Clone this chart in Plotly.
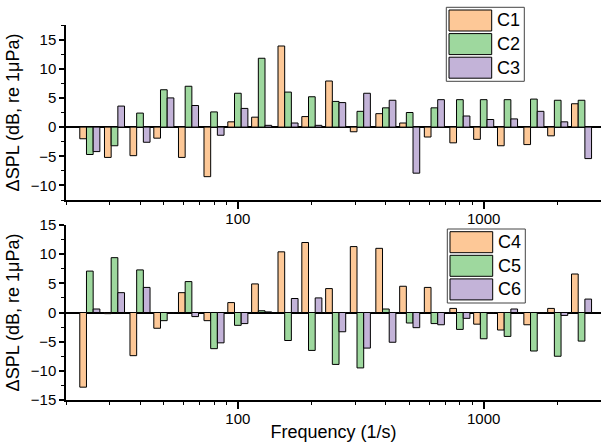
import numpy as np
import plotly.graph_objects as go
from plotly.subplots import make_subplots

# ---- data ----
freqs = [25, 31.5, 40, 50, 63, 80, 100, 125, 160, 200, 250, 315, 400, 500,
         630, 800, 1000, 1250, 1600, 2000, 2500]

C1 = [-2.0, -5.2, -4.9, -1.9, -5.2, -8.5, 0.9, 1.7, 13.9, 1.8, 7.9, -0.8, 2.3, 0.7,
      -1.7, -2.7, -2.1, -3.2, -3.0, -1.5, 4.0]
C2 = [-4.7, -3.2, 2.4, 6.4, 7.0, 2.6, 5.8, 11.8, 6.0, 5.2, 4.4, 2.7, 3.3, 2.5,
      3.3, 4.7, 4.7, 4.7, 4.8, 4.6, 4.6]
C3 = [-4.2, 3.6, -2.6, 5.0, 3.7, -1.4, 3.2, 0.3, 0.7, 0.3, 4.2, 5.8, 4.6, -7.9,
      4.7, 1.9, 1.3, 1.4, 2.7, 0.9, -5.4]

C4 = [-12.8, -0.2, -7.4, -2.7, 3.4, -1.4, 1.7, 4.9, 10.4, 12.0, 4.1, 11.3, 11.0, 4.5,
      4.3, 0.7, -2.0, -3.0, -2.1, 0.7, 6.6]
C5 = [7.1, 9.4, 7.3, -1.4, 5.3, -6.2, -2.2, 0.3, -4.8, -6.5, -8.9, -9.5, 0.6, -1.8,
      -1.9, -2.9, -4.5, -4.1, -6.6, -7.5, -4.9]
C6 = [0.6, 3.4, 4.3, -0.1, -0.7, -5.2, -1.9, 0.1, 2.4, 2.5, -3.3, -6.1, -5.1, -2.6,
      -2.1, -1.0, -0.1, 0.6, -0.1, -0.5, 2.3]

top_names = ["C1", "C2", "C3"]
bot_names = ["C4", "C5", "C6"]
colors = ["#FDC897", "#9ED89E", "#C3B3D8"]

x_major = [100, 1000]
x_minor = [20, 30, 40, 50, 60, 70, 80, 90, 200, 300, 400, 500, 600, 700, 800, 900, 2000, 3000]

# ---- figure geometry (pixels) ----
W, H = 601, 444
ML, MR, MT, MB = 66, 0, 25, 44
PW, PH = W - ML - MR, H - MT - MB

def px_x(px):
    return (px - ML) / PW

def px_y(py):
    return (H - MB - py) / PH

fig = make_subplots(rows=2, cols=1, shared_xaxes=False, vertical_spacing=25 / PH)

xpos = np.log10(freqs)
bw = 0.0272
offsets = [-1.5 * bw, -0.5 * bw, 0.5 * bw]

for row, (names, series) in enumerate([(top_names, [C1, C2, C3]), (bot_names, [C4, C5, C6])], start=1):
    for i, (nm, vals) in enumerate(zip(names, series)):
        fig.add_trace(go.Bar(x=xpos, y=vals, name=nm, width=bw, offset=offsets[i],
                             marker=dict(color=colors[i], line=dict(color="black", width=1)),
                             showlegend=False, cliponaxis=False), row=row, col=1)

font = dict(family="Arial, Liberation Sans, sans-serif", color="black")

xr = [np.log10(20), np.log10(3000)]
for row in (1, 2):
    fig.update_xaxes(range=xr, type="linear", showline=True, linecolor="black", linewidth=1.5,
                     showgrid=False, zeroline=False, automargin=False,
                     tickmode="array", tickvals=np.log10(x_major).tolist(),
                     ticktext=[str(v) for v in x_major],
                     ticks="outside", ticklen=7, tickwidth=1.5, tickcolor="black",
                     ticklabelstandoff=-3,
                     minor=dict(tickmode="array", tickvals=np.log10(x_minor).tolist(),
                                ticks="outside", ticklen=3, tickwidth=1.2, tickcolor="black"),
                     tickfont=dict(size=15, **font), row=row, col=1)

fig.update_yaxes(range=[-12.5, 17.5], dtick=5, tick0=0, row=1, col=1)
fig.update_yaxes(range=[-15, 15], dtick=5, tick0=0, row=2, col=1)
for row in (1, 2):
    fig.update_yaxes(showline=True, linecolor="black", linewidth=1.5, showgrid=False,
                     zeroline=True, zerolinecolor="black", zerolinewidth=1.5, automargin=False,
                     ticks="outside", ticklen=5, tickwidth=1.5, tickcolor="black",
                     minor=dict(dtick=2.5, ticks="outside", ticklen=3, tickwidth=1.2, tickcolor="black"),
                     tickfont=dict(size=15, **font),
                     title=dict(text="ΔSPL (dB, re 1μPa)", font=dict(size=18, **font), standoff=6),
                     row=row, col=1)

fig.update_xaxes(title=dict(text="Frequency (1/s)", font=dict(size=18, **font), standoff=0), row=2, col=1)

# ---- custom legends ----
shapes = []
annots = []
for k, names in enumerate([top_names, bot_names]):
    dx, dy = k * 1.0, k * 221.7
    bx0, bx1 = 446.3 + dx, 524.3 + dx
    by0, by1 = 7.3 + dy, 81.3 + dy
    shapes.append(dict(type="rect", xref="paper", yref="paper",
                       x0=px_x(bx0), x1=px_x(bx1), y0=px_y(by1), y1=px_y(by0),
                       line=dict(color="#444444", width=1), fillcolor="white", layer="above"))
    for i, nm in enumerate(names):
        ry0 = 10.0 + dy + i * 23.6
        ry1 = ry0 + 21
        shapes.append(dict(type="rect", xref="paper", yref="paper",
                           x0=px_x(449 + dx), x1=px_x(491.7 + dx), y0=px_y(ry1), y1=px_y(ry0),
                           line=dict(color="black", width=1), fillcolor=colors[i], layer="above"))
        annots.append(dict(xref="paper", yref="paper", x=px_x(495 + dx), y=px_y((ry0 + ry1) / 2),
                           text=nm, showarrow=False, xanchor="left", yanchor="middle",
                           font=dict(size=18, **font)))

fig.update_layout(width=W, height=H, margin=dict(l=ML, r=MR, t=MT, b=MB, autoexpand=False),
                  plot_bgcolor="white", paper_bgcolor="white", barmode="overlay",
                  shapes=shapes, annotations=annots, showlegend=False, font=font)

fig.write_html("out.html", config={"displayModeBar": False},
               post_script="document.body.style.margin='0';document.body.style.padding='0';"
                           "document.body.style.overflow='hidden';")
